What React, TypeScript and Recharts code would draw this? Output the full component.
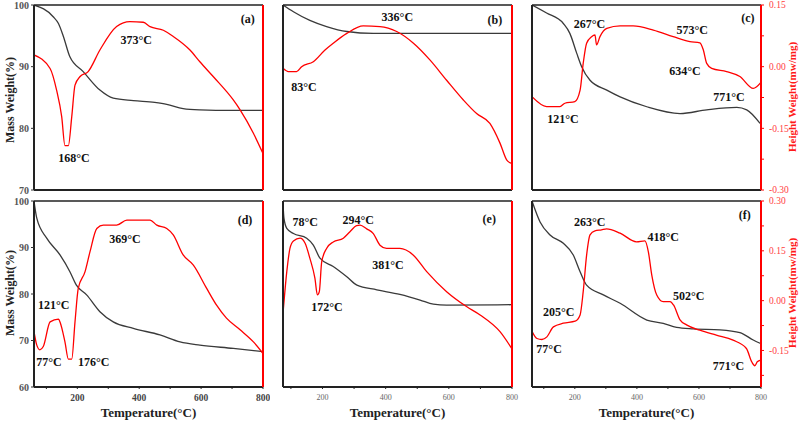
import React from 'react';
import { LineChart, Line, XAxis, YAxis, ReferenceDot } from 'recharts';

type Pt = [number, number];
type Note = { text: string; t: number; v: number };

const xTicks = [100, 200, 300, 400, 500, 600, 700, 800];
const xLabelled = [200, 400, 600, 800];
const massTicksTop = [70, 80, 90, 100];
const massTicksBottom = [60, 70, 80, 90, 100];
const heatTicksC = [-0.3, -0.225, -0.15, -0.075, 0, 0.075, 0.15];
const heatTicksF = [-0.225, -0.15, -0.075, 0, 0.075, 0.15, 0.225, 0.3];
const heatLabelled = [-0.3, -0.15, 0, 0.15, 0.3];

// (a)
const massA: Pt[] = [[60,100],[122,98.1],[139,97.0],[155,94.9],[176,91.6],[219,89.2],[273,86.2],[316,84.9],[381,84.5],[450,84.2],[489,83.9],[542,83.2],[596,83.0],[700,82.9],[800,82.9]];
const heatA: Pt[] = [[60,91.9],[112,89.7],[133,86.2],[149.5,81.9],[160,77.2],[171,77.2],[182,81.9],[192.5,87.0],[209,88.4],[235,89.2],[273,92.7],[327,96.5],[370,97.3],[413,97.2],[435,96.5],[478,95.9],[510,94.9],[564,92.7],[596,90.8],[639,88.4],[704,84.6],[726,83.0],[769,79.2],[800,75.9]];
const notesA: Note[] = [{text:'(a)',t:751,v:97.7},{text:'373°C',t:390,v:94.4},{text:'168°C',t:189,v:75.2}];

// (b)
const massB: Pt[] = [[75,100],[108,98.9],[160,97.5],[213,96.5],[277,95.7],[361,95.4],[800,95.4]];
const heatB: Pt[] = [[76,89.7],[92,89.2],[118,89.2],[134,90.0],[171,90.8],[208,92.7],[234,93.8],[277,95.4],[329,96.6],[382,96.5],[435,95.7],[488,93.8],[540,91.1],[593,87.8],[646,84.6],[688,82.4],[730,80.8],[762,77.6],[783,74.9],[799,74.3]];
const notesB: Note[] = [{text:'336°C',t:437,v:98.0},{text:'(b)',t:746,v:97.6},{text:'83°C',t:141.5,v:86.7}];

// (c)
const massC: Pt[] = [[62,100],[109,98.7],[163,97.0],[184,95.4],[206,92.2],[222,90.0],[249,87.8],[303,86.2],[346,85.1],[432,83.5],[539,82.4],[625,83.0],[722,83.4],[754,83.0],[797,80.8]];
const heatC: Pt[] = [[62,-0.073],[109,-0.097],[152,-0.097],[168,-0.089],[200,-0.085],[217,-0.057],[227,0.008],[238,0.057],[254,0.073],[265,0.077],[270,0.053],[281,0.073],[303,0.093],[346,0.099],[388,0.099],[453,0.089],[517,0.073],[571,0.061],[603,0.058],[614,0.041],[625,0.008],[641,-0.004],[689,-0.012],[732,-0.024],[775,-0.053],[786,-0.049],[799,-0.039]];
const notesC: Note[] = [{text:'267°C',t:247,v:0.104},{text:'573°C',t:578,v:0.089},{text:'634°C',t:555,v:-0.010},{text:'771°C',t:697,v:-0.073},{text:'121°C',t:162,v:-0.128},{text:'(c)',t:758,v:0.118}];

// (d)
const massD: Pt[] = [[60,100],[69,96.3],[101,92.0],[144,88.4],[176,84.8],[197,81.9],[230,79.8],[273,76.2],[316,74.0],[381,72.6],[467,71.2],[532,69.7],[596,69.0],[704,68.3],[800,67.6]];
const heatD: Pt[] = [[60,71.9],[69,69.0],[79,68.0],[90,68.7],[112,74.0],[139,74.6],[144,74.0],[160,69.7],[171,66.0],[182,66.0],[192.5,74.0],[203,81.2],[225,84.8],[241,89.1],[263,94.1],[284,94.8],[327,94.8],[360,95.9],[435,95.9],[457,94.8],[489,94.1],[510,92.7],[542,88.4],[575,86.2],[618,81.2],[650,77.6],[682,74.8],[726,72.3],[769,69.7],[800,67.2]];
const notesD: Note[] = [{text:'(d)',t:742,v:95.9},{text:'369°C',t:354,v:91.8},{text:'121°C',t:124,v:77.6},{text:'77°C',t:108.5,v:65.4},{text:'176°C',t:253,v:65.3}];

// (e)
const massE: Pt[] = [[75,99.5],[78,96.3],[87,94.1],[108,93.0],[150,92.0],[171,90.5],[192,87.7],[234,85.9],[277,83.7],[309,81.9],[372,80.9],[445,79.9],[509,78.7],[551,77.8],[593,77.6],[800,77.7]];
const heatE: Pt[] = [[76,76.6],[87,84.8],[97,89.8],[108,91.4],[129,92.0],[145,90.9],[160,87.7],[176,83.4],[184,79.8],[190,80.5],[197.5,86.9],[213,89.8],[234,91.2],[266,92.0],[287,93.4],[308,94.7],[319,94.8],[340,94.0],[361,93.0],[382,90.5],[403,89.8],[445,89.8],[487,88.4],[530,84.8],[593,80.5],[656,77.3],[699,75.5],[762,71.9],[799,68.3]];
const notesE: Note[] = [{text:'(e)',t:728,v:96.1},{text:'78°C',t:145.6,v:95.4},{text:'294°C',t:313,v:95.9},{text:'381°C',t:407,v:86.2},{text:'172°C',t:214,v:77.3}];

// (f)
const massF: Pt[] = [[62,100],[88,95.5],[120,92.7],[163,90.9],[195,88.4],[217,84.8],[238,81.9],[292,79.8],[346,78.0],[432,74.4],[485,73.7],[528,72.8],[582,72.5],[668,72.3],[732,71.7],[775,70.1],[797,69.4]];
const heatF: Pt[] = [[62,-0.092],[78,-0.114],[94,-0.117],[110,-0.109],[131,-0.079],[163,-0.068],[201,-0.062],[217,-0.043],[227,0.027],[238,0.137],[249,0.198],[265,0.21],[286,0.213],[302,0.216],[346,0.203],[399,0.177],[426,0.18],[437,0.147],[448,0.077],[464,0.017],[485,-0.003],[507,-0.003],[518,-0.013],[539,-0.058],[560,-0.073],[603,-0.089],[656,-0.104],[710,-0.119],[753,-0.144],[770,-0.184],[780,-0.196],[788,-0.184],[799,-0.179]];
const notesF: Note[] = [{text:'(f)',t:748,v:0.258},{text:'263°C',t:248,v:0.238},{text:'418°C',t:485,v:0.192},{text:'502°C',t:567,v:0.015},{text:'205°C',t:148,v:-0.035},{text:'77°C',t:117,v:-0.146},{text:'771°C',t:695,v:-0.196}];

const FONT = "'Liberation Serif','Times New Roman',serif";

const toRows = (pts: Pt[]) => pts.map(([t, v]) => ({ t, v }));

interface PanelProps {
  left: number; top: number; width: number; height: number;
  wl: number; wr: number; hb: number;
  xDomain: [number, number];
  yDomain: [number, number]; yTicks?: number[];
  rDomain: [number, number]; rTicks?: number[];
  mass: Pt[]; heat: Pt[]; notes: Note[]; noteAxis: 'l' | 'r';
  xTick?: any;
}

const fmtX = (v: number) => (xLabelled.includes(v) ? String(v) : '');
const fmtR = (v: number) => (heatLabelled.some((h) => Math.abs(h - v) < 1e-6) ? v.toFixed(2) : '');

function Panel(p: PanelProps) {
  return (
    <div style={{ position: 'absolute', left: p.left, top: p.top }}>
      <LineChart width={p.width} height={p.height} margin={{ top: 4, right: 0, bottom: 0, left: 0 }}>
        <XAxis xAxisId="b" type="number" dataKey="t" domain={p.xDomain} allowDataOverflow
          ticks={xTicks} interval={0} tickFormatter={fmtX}
          tick={p.xTick ? p.xTick : false}
          tickLine={p.xTick ? { stroke: '#222' } : false} tickSize={2} tickMargin={5}
          axisLine={{ stroke: '#222', strokeWidth: 2 }} height={p.hb} />
        <XAxis xAxisId="t" orientation="top" type="number" dataKey="t" domain={p.xDomain} allowDataOverflow
          tick={false} tickLine={false} axisLine={{ stroke: '#222', strokeWidth: 1.5 }} height={1} />
        <YAxis yAxisId="l" type="number" domain={p.yDomain} allowDataOverflow
          ticks={p.yTicks} interval={0}
          tick={p.yTicks ? { fontSize: 10, fontWeight: 'bold', fill: '#555', fontFamily: FONT } : false}
          tickLine={p.yTicks ? { stroke: '#333' } : false} tickSize={3} tickMargin={2}
          axisLine={{ stroke: '#222', strokeWidth: 2 }} width={p.wl} />
        <YAxis yAxisId="r" orientation="right" type="number" domain={p.rDomain} allowDataOverflow
          ticks={p.rTicks} interval={0}
          tick={p.rTicks ? { fontSize: 9.5, fill: '#ff4040', fontFamily: FONT } : false}
          tickFormatter={fmtR}
          tickLine={p.rTicks ? { stroke: '#ff0000' } : false} tickSize={3} tickMargin={5}
          axisLine={{ stroke: '#ff0000', strokeWidth: 2 }} width={p.wr} />
        <Line xAxisId="b" yAxisId="l" data={toRows(p.mass)} dataKey="v" type="monotone"
          stroke="#3a3a3a" strokeWidth={1.3} dot={false} isAnimationActive={false} />
        <Line xAxisId="b" yAxisId="r" data={toRows(p.heat)} dataKey="v" type="monotone"
          stroke="#ff0000" strokeWidth={1.3} dot={false} isAnimationActive={false} />
        {p.notes.map((n, i) => (
          <ReferenceDot key={i} xAxisId="b" yAxisId={p.noteAxis} x={n.t} y={n.v} r={0}
            shape={(s: any) => (
              <text x={s.cx} y={s.cy} textAnchor="middle" dominantBaseline="central"
                fontFamily={FONT} fontWeight="bold" fontSize={12} fill="#111">{n.text}</text>
            )} />
        ))}
      </LineChart>
    </div>
  );
}

const divText = (text: string, x: number, y: number, size: number, color: string, rotate: boolean) => (
  <div style={{
    position: 'absolute', left: x, top: y, transform: `translate(-50%,-50%)${rotate ? ' rotate(-90deg)' : ''}`,
    whiteSpace: 'nowrap', fontFamily: FONT, fontWeight: 'bold', fontSize: size, color, lineHeight: 1,
  }}>{text}</div>
);

export default function App() {
  const xTickBold = { fontSize: 9.5, fontWeight: 'bold', fill: '#444', fontFamily: FONT };
  const xTickLight = { fontSize: 8, fill: '#666', fontFamily: FONT };
  return (
    <div style={{ position: 'absolute', left: 0, top: 0, width: 803, height: 424, background: '#fff', overflow: 'hidden' }}>
      <Panel left={0} top={0} width={270} height={200} wl={34} wr={7} hb={10}
        xDomain={[60, 800]} yDomain={[70, 100]} yTicks={massTicksTop} rDomain={[70, 100]}
        mass={massA} heat={heatA} notes={notesA} noteAxis="l" />
      <Panel left={270} top={0} width={250} height={200} wl={13} wr={8} hb={10}
        xDomain={[75, 800]} yDomain={[70, 100]} rDomain={[70, 100]}
        mass={massB} heat={heatB} notes={notesB} noteAxis="l" />
      <Panel left={520} top={0} width={283} height={200} wl={12} wr={42} hb={10}
        xDomain={[62, 800]} yDomain={[70, 100]} rDomain={[-0.3, 0.15]} rTicks={heatTicksC}
        mass={massC} heat={heatC} notes={notesC} noteAxis="r" />
      <Panel left={0} top={196} width={270} height={228} wl={34} wr={7} hb={37}
        xDomain={[60, 800]} yDomain={[60, 100]} yTicks={massTicksBottom} rDomain={[60, 100]}
        mass={massD} heat={heatD} notes={notesD} noteAxis="l" xTick={xTickBold} />
      <Panel left={270} top={196} width={250} height={228} wl={13} wr={8} hb={37}
        xDomain={[75, 800]} yDomain={[60, 100]} rDomain={[60, 100]}
        mass={massE} heat={heatE} notes={notesE} noteAxis="l" xTick={xTickLight} />
      <Panel left={520} top={196} width={283} height={228} wl={12} wr={42} hb={37}
        xDomain={[62, 800]} yDomain={[60, 100]} rDomain={[-0.26, 0.3]} rTicks={heatTicksF}
        mass={massF} heat={heatF} notes={notesF} noteAxis="r" xTick={xTickLight} />
      {divText('Mass Weight(%)', 10, 100, 12, '#222', true)}
      {divText('Mass Weight(%)', 10, 293, 12, '#222', true)}
      {divText('Height Weight(mw/mg)', 792, 97, 11, '#ff1a1a', true)}
      {divText('Height Weight(mw/mg)', 792, 293, 11, '#ff1a1a', true)}
      {divText('Temperature(°C)', 148.5, 412, 13, '#222', false)}
      {divText('Temperature(°C)', 397.5, 412, 13, '#222', false)}
      {divText('Temperature(°C)', 646.5, 412, 13, '#222', false)}
    </div>
  );
}
